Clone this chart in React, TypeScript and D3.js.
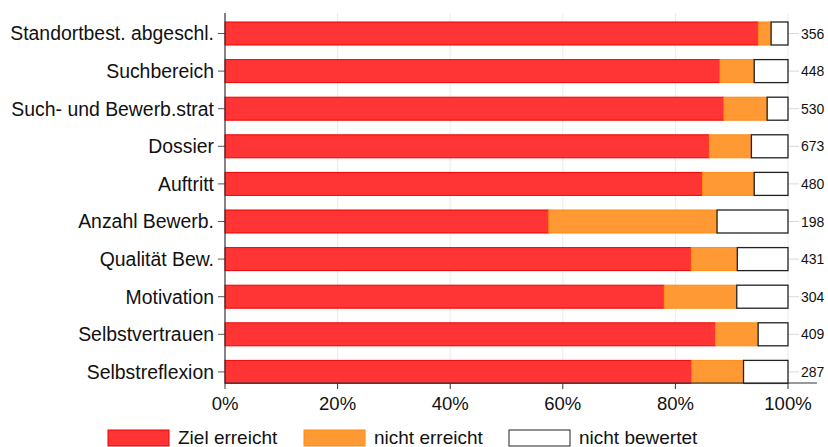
import React from "react";
import * as d3 from "d3";

const categories = [
  "Standortbest. abgeschl.",
  "Suchbereich",
  "Such- und Bewerb.strat",
  "Dossier",
  "Auftritt",
  "Anzahl Bewerb.",
  "Qualität Bew.",
  "Motivation",
  "Selbstvertrauen",
  "Selbstreflexion",
];
const zielErreicht = [94.7, 87.9, 88.6, 86.0, 84.8, 57.5, 82.8, 78.0, 87.1, 82.9];
const nichtErreicht = [2.3, 6.1, 7.7, 7.5, 9.2, 29.9, 8.2, 12.9, 7.6, 9.2];
const nichtBewertet = zielErreicht.map((z, i) => 100 - z - nichtErreicht[i]);
const counts = [356, 448, 530, 673, 480, 198, 431, 304, 409, 287];
const xTicks = [0, 20, 40, 60, 80, 100];
const seriesNames = ["Ziel erreicht", "nicht erreicht", "nicht bewertet"];
const seriesFill = ["#ff3535", "#ff9933", "#ffffff"];
const seriesStroke = ["#ee0000", "#ff8a10", "#222222"];

export default function App() {
  const W = 828, H = 447;
  const x0 = 225, x1 = 788;
  const yTop = 13, yBot = 383;
  const x = d3.scaleLinear().domain([0, 100]).range([x0, x1]);
  const y = d3.scaleBand().domain(categories).range([14.7, 390.7]).paddingInner(0.388).paddingOuter(0.194);
  const font = "'Liberation Sans', Arial, sans-serif";
  const rows = categories.map((c, i) => {
    const vals = [zielErreicht[i], nichtErreicht[i], nichtBewertet[i]];
    let acc = 0;
    return vals.map((v, k) => {
      const s = acc;
      acc += v;
      return { c, k, s, e: acc };
    });
  });
  const legendX = [108, 304, 509];
  return (
    <svg width={W} height={H} style={{ position: "absolute", left: 0, top: 0, fontFamily: font }}>
      <rect width={W} height={H} fill="#fff" />
      {xTicks.filter((t) => t > 0).map((t) => (
        <line key={t} x1={x(t)} x2={x(t)} y1={yTop} y2={yBot} stroke="#ebebeb" strokeWidth={1} />
      ))}
      {categories.map((c, i) => {
        const cy = (y(c) as number) + y.bandwidth() / 2;
        return (
          <g key={c}>
            <line x1={x1} x2={x1 + 11} y1={cy} y2={cy} stroke="#d9d9d9" />
            <text x={x1 + 13} y={cy} dy="0.36em" fontSize={14} fill="#111">{counts[i]}</text>
            <line x1={x0 - 7} x2={x0} y1={cy} y2={cy} stroke="#555" />
            <text x={x0 - 11} y={cy} dy="0.36em" fontSize={19.4} textAnchor="end" fill="#111">{c}</text>
          </g>
        );
      })}
      {rows.map((segs) =>
        segs.map((s) => (
          <rect
            key={s.c + s.k}
            x={x(s.s)}
            y={y(s.c) as number}
            width={x(s.e) - x(s.s)}
            height={y.bandwidth()}
            fill={seriesFill[s.k]}
            stroke={seriesStroke[s.k]}
            strokeWidth={s.k === 2 ? 1.3 : 1}
          />
        ))
      )}
      <line x1={x0} x2={x0} y1={yTop} y2={yBot} stroke="#333" strokeWidth={1.2} />
      <line x1={x0} x2={817} y1={yBot} y2={yBot} stroke="#333" strokeWidth={1.2} />
      {xTicks.map((t) => (
        <g key={t}>
          <line x1={x(t)} x2={x(t)} y1={yBot} y2={yBot + 6} stroke="#333" />
          <text x={x(t)} y={410} fontSize={18.5} textAnchor="middle" fill="#111">{t}%</text>
        </g>
      ))}
      {seriesNames.map((n, k) => (
        <g key={n}>
          <rect x={legendX[k]} y={430} width={61} height={16} fill={seriesFill[k]} stroke={seriesStroke[k]} strokeWidth={1} />
          <text x={legendX[k] + 70} y={444} fontSize={19} fill="#111">{n}</text>
        </g>
      ))}
    </svg>
  );
}
